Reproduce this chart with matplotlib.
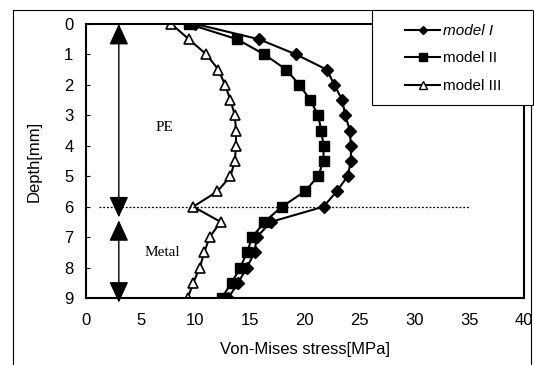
import matplotlib.pyplot as plt
from matplotlib.lines import Line2D
from matplotlib.patches import Rectangle

# depth below the surface [mm], one point every 0.5 mm
depth = [0, 0.5, 1, 1.5, 2, 2.5, 3, 3.5, 4, 4.5, 5, 5.5, 6, 6.5, 7, 7.5, 8, 8.5, 9]

# von Mises stress [MPa] for each model
model_1 = [10.0, 15.8, 19.2, 22.0, 22.7, 23.4, 23.7, 24.1, 24.2, 24.2,
           23.9, 22.9, 21.7, 16.9, 15.6, 15.4, 14.7, 13.9, 13.0]
model_2 = [9.4, 13.8, 16.3, 18.3, 19.5, 20.5, 21.2, 21.5, 21.7, 21.7,
           21.2, 20.0, 17.9, 16.3, 15.2, 14.7, 14.1, 13.3, 12.4]
model_3 = [7.8, 9.4, 11.0, 12.1, 12.7, 13.2, 13.6, 13.7, 13.7, 13.6,
           13.2, 12.0, 9.8, 12.3, 11.3, 10.8, 10.4, 9.8, 9.3]

labels = ["model I", "model II", "model III"]
xticks = [0, 5, 10, 15, 20, 25, 30, 35, 40]
yticks = [0, 1, 2, 3, 4, 5, 6, 7, 8, 9]

plt.rcParams["font.family"] = "Liberation Sans"

fig = plt.figure(figsize=(5.34, 3.65), dpi=100)
ax = fig.add_axes([0.161, 0.1836, 0.82, 0.7506])

styles = [
    dict(marker="D", ms=6, mfc="black"),
    dict(marker="s", ms=7, mfc="black"),
    dict(marker="^", ms=7, mfc="white", mew=1.2),
]
for xs, st in zip([model_1, model_2, model_3], styles):
    ax.plot(xs, depth, color="black", lw=1.5, mec="black", **st)

# PE / metal interface
ax.plot([1.2, 35.0], [6, 6], color="black", lw=0.9, ls=(0, (1.5, 1.5)))

# thickness arrows for the two layers
arrow = dict(arrowstyle="<|-|>,head_length=0.65,head_width=0.3",
             color="black", lw=1.0, mutation_scale=20, shrinkA=0, shrinkB=0)
ax.annotate("", xy=(3, 0), xytext=(3, 6.35), arrowprops=arrow,
            annotation_clip=False)
ax.annotate("", xy=(3, 6.45), xytext=(3, 9.15), arrowprops=arrow,
            annotation_clip=False)
ax.text(7.2, 3.4, "PE", family="Liberation Serif", fontsize=11,
        ha="center", va="center")
ax.text(7.0, 7.5, "Metal", family="Liberation Serif", fontsize=11,
        ha="center", va="center")

ax.set_xlim(0, 40)
ax.set_ylim(9, 0)
ax.set_xticks(xticks)
ax.set_yticks(yticks)
ax.tick_params(axis="y", direction="in", length=3, pad=9, labelsize=12)
ax.tick_params(axis="x", length=0, pad=11, labelsize=12)
for side in ax.spines.values():
    side.set_linewidth(1.5)

ax.set_xlabel("Von-Mises stress[MPa]", fontsize=12, labelpad=10)
ax.set_ylabel("Depth[mm]", fontsize=12, labelpad=16)

# legend box sits over the top right corner of the axes
fig.add_artist(Rectangle((372 / 534, 1 - 105 / 365), 161 / 534, 95 / 365,
                         transform=fig.transFigure, facecolor="white",
                         edgecolor="black", lw=0.8, zorder=3))
handles = [Line2D([], [], color="black", lw=1.5, marker=st["marker"],
                  ms=st["ms"] - 1.5, mfc=st["mfc"]) for st in styles]
leg = fig.legend(handles, labels, loc="upper left",
                 bbox_to_anchor=(405 / 534, 1 - 24 / 365),
                 fontsize=11, frameon=False, handlelength=2.3,
                 labelspacing=0.88, borderpad=0, handletextpad=0.2,
                 borderaxespad=0)
leg.set_zorder(4)
leg.get_texts()[0].set_style("italic")

# outer frame of the figure
x0, x1, y1 = 13 / 534, 531 / 534, 1 - 10 / 365
fig.add_artist(Line2D([x0, x0], [0, y1], color="black", lw=0.8))
fig.add_artist(Line2D([x0, x1], [y1, y1], color="black", lw=0.8))
fig.add_artist(Line2D([x1, x1], [0, y1], color="black", lw=0.8))

fig.savefig("out.png", dpi=100)
